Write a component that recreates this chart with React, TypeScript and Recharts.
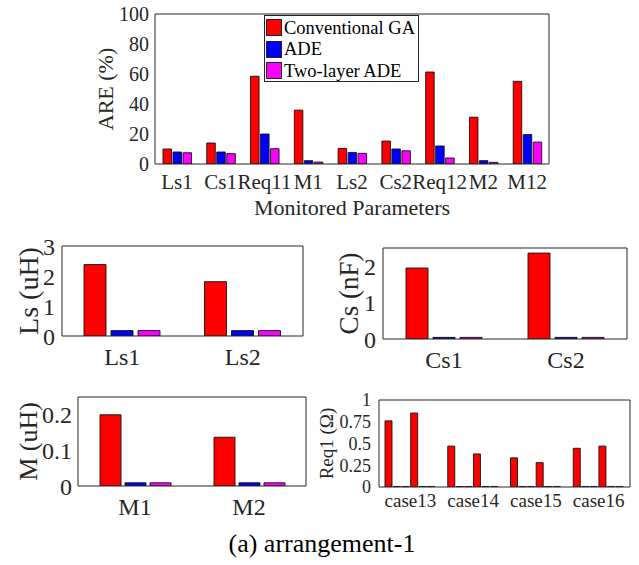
import React from "react"
import { BarChart, Bar, XAxis, YAxis, Legend } from "recharts"

const FONT = '"Liberation Serif", Tinos, "DejaVu Serif", serif'
const INK = "#262626"
const RED = "#ff0000"
const BLUE = "#0000ff"
const MAGENTA = "#ff00ff"

// top panel: ARE per monitored parameter
const topCategories = ["Ls1", "Cs1", "Req11", "M1", "Ls2", "Cs2", "Req12", "M2", "M12"]
const topGA = [10, 14, 58.5, 35.9, 10.4, 15.3, 61.3, 31.2, 55.1]
const topADE = [8, 8, 20, 2.2, 7.7, 10, 12, 2.2, 19.6]
const topTwoLayer = [7.5, 6.9, 10.2, 1.3, 7.1, 8.8, 4, 1.1, 14.6]
const topTicks = [0, 20, 40, 60, 80, 100]

// Ls (uH)
const lsCategories = ["Ls1", "Ls2"]
const lsGA = [2.38, 1.81]
const lsADE = [0.18, 0.18]
const lsTwoLayer = [0.18, 0.18]
const lsTicks = [0, 1, 2, 3]

// Cs (nF)
const csCategories = ["Cs1", "Cs2"]
const csGA = [1.95, 2.36]
const csADE = [0.045, 0.045]
const csTwoLayer = [0.045, 0.045]
const csTicks = [0, 1, 2]

// M (uH)
const mCategories = ["M1", "M2"]
const mGA = [0.2, 0.137]
const mADE = [0.009, 0.009]
const mTwoLayer = [0.009, 0.009]
const mTicks = [0, 0.1, 0.2]

// Req1 per case: first group Req11, second group Req12
const reqCases = ["case13", "case14", "case15", "case16"]
const req11GA = [0.76, 0.47, 0.335, 0.445]
const req11ADE = [0.006, 0.006, 0.006, 0.006]
const req11TwoLayer = [0.006, 0.006, 0.006, 0.006]
const req12GA = [0.85, 0.38, 0.28, 0.47]
const req12ADE = [0.006, 0.006, 0.006, 0.006]
const req12TwoLayer = [0.006, 0.006, 0.006, 0.006]
const reqTicks = [0, 0.25, 0.5, 0.75, 1]

const seriesNames = ["Conventional GA", "ADE", "Two-layer ADE"]

const threeSeries = [
  { key: "ga", name: seriesNames[0], color: RED },
  { key: "ade", name: seriesNames[1], color: BLUE },
  { key: "two", name: seriesNames[2], color: MAGENTA },
]

const sixSeries = [
  { key: "ga1", name: seriesNames[0], color: RED },
  { key: "ade1", name: seriesNames[1], color: BLUE },
  { key: "two1", name: seriesNames[2], color: MAGENTA },
  { key: "ga2", name: seriesNames[0], color: RED },
  { key: "ade2", name: seriesNames[1], color: BLUE },
  { key: "two2", name: seriesNames[2], color: MAGENTA },
]

const rows3 = (cats: string[], ga: number[], ade: number[], two: number[]) =>
  cats.map((name, i) => ({ name, ga: ga[i], ade: ade[i], two: two[i] }))

const topData = rows3(topCategories, topGA, topADE, topTwoLayer)
const lsData = rows3(lsCategories, lsGA, lsADE, lsTwoLayer)
const csData = rows3(csCategories, csGA, csADE, csTwoLayer)
const mData = rows3(mCategories, mGA, mADE, mTwoLayer)
const reqData = reqCases.map((name, i) => ({
  name,
  ga1: req11GA[i],
  ade1: req11ADE[i],
  two1: req11TwoLayer[i],
  ga2: req12GA[i],
  ade2: req12ADE[i],
  two2: req12TwoLayer[i],
}))

function LegendBox({ payload }: any) {
  return (
    <div
      style={{
        border: `1px solid ${INK}`,
        background: "#fff",
        width: 155,
        height: 67,
        boxSizing: "border-box",
        paddingTop: 1,
        fontFamily: FONT,
      }}
    >
      {(payload || []).map((e: any) => (
        <div key={e.value} style={{ display: "flex", alignItems: "center", height: 21.5 }}>
          <span
            style={{
              display: "inline-block",
              width: 16,
              height: 17,
              marginLeft: 1,
              marginRight: 2,
              background: e.color,
              border: "1px solid #222",
              boxSizing: "border-box",
            }}
          />
          <span style={{ fontSize: 18.5, color: "#000", lineHeight: "18px", whiteSpace: "nowrap" }}>{e.value}</span>
        </div>
      ))}
    </div>
  )
}

type PanelProps = {
  left: number
  top: number
  width: number
  height: number
  margin: { top: number; right: number; bottom: number; left: number }
  data: any[]
  series: { key: string; name: string; color: string }[]
  domain: [number, number]
  ticks: number[]
  yLabel: string
  yLabelSize: number
  yLabelDx: number
  yWidth: number
  yTickSize: number
  yTickGap: number
  xHeight: number
  xTickSize: number
  xTickGap: number
  barSize: number
  barGap: number
  xLabel?: string
  legend?: boolean
}

function Panel(p: PanelProps) {
  const tickStyle = { fill: INK, fontFamily: FONT }
  return (
    <div style={{ position: "absolute", left: p.left, top: p.top }}>
      <BarChart width={p.width} height={p.height} data={p.data} margin={p.margin} barGap={p.barGap}>
        <XAxis
          dataKey="name"
          interval={0}
          height={p.xHeight}
          tickLine={false}
          tickSize={2}
          tickMargin={p.xTickGap}
          axisLine={{ stroke: INK }}
          tick={{ ...tickStyle, fontSize: p.xTickSize }}
          label={
            p.xLabel
              ? { value: p.xLabel, position: "insideBottom", offset: 0, fill: INK, fontSize: 22, fontFamily: FONT }
              : undefined
          }
        />
        <XAxis
          xAxisId="top"
          orientation="top"
          dataKey="name"
          interval={0}
          height={1}
          tick={false}
          tickSize={-4}
          axisLine={{ stroke: INK }}
          tickLine={{ stroke: INK }}
        />
        <YAxis
          type="number"
          domain={p.domain}
          ticks={p.ticks}
          interval={0}
          width={p.yWidth}
          allowDataOverflow
          tickLine={false}
          tickSize={2}
          tickMargin={p.yTickGap}
          axisLine={{ stroke: INK }}
          tick={{ ...tickStyle, fontSize: p.yTickSize }}
          label={{
            value: p.yLabel,
            angle: -90,
            position: "center",
            dx: p.yLabelDx,
            fill: INK,
            fontSize: p.yLabelSize,
            fontFamily: FONT,
          }}
        />
        <YAxis
          yAxisId="right"
          orientation="right"
          type="number"
          domain={p.domain}
          ticks={p.ticks}
          interval={0}
          width={1}
          tick={false}
          tickSize={-4}
          axisLine={{ stroke: INK }}
          tickLine={{ stroke: INK }}
        />
        {p.legend && (
          <Legend
            layout="vertical"
            align="center"
            verticalAlign="middle"
            itemSorter={(item: any) => seriesNames.indexOf(item.value)}
            content={<LegendBox />}
            wrapperStyle={{ left: 264, top: 15, width: 155, height: 67 }}
          />
        )}
        {p.series.map((s) => (
          <Bar
            key={s.key}
            dataKey={s.key}
            name={s.name}
            fill={s.color}
            stroke="#111"
            strokeWidth={0.9}
            barSize={p.barSize}
            isAnimationActive={false}
          />
        ))}
      </BarChart>
    </div>
  )
}

export default function App() {
  return (
    <div style={{ position: "absolute", left: 0, top: 0, width: 639, height: 565, background: "#fff" }}>
      <Panel
        left={0}
        top={0}
        width={639}
        height={230}
        margin={{ top: 13, right: 89, bottom: 15, left: 55 }}
        data={topData}
        series={threeSeries}
        domain={[0, 100]}
        ticks={topTicks}
        yLabel="ARE (%)"
        yLabelSize={22}
        yLabelDx={0}
        yWidth={100}
        yTickSize={20}
        yTickGap={4}
        xHeight={51}
        xTickSize={21}
        xTickGap={8}
        barSize={8.5}
        barGap={1.5}
        xLabel="Monitored Parameters"
        legend
      />
      <Panel
        left={0}
        top={230}
        width={320}
        height={150}
        margin={{ top: 15, right: 16, bottom: 0, left: 0 }}
        data={lsData}
        series={threeSeries}
        domain={[0, 3]}
        ticks={lsTicks}
        yLabel="Ls (uH)"
        yLabelSize={28}
        yLabelDx={-3}
        yWidth={62}
        yTickSize={24}
        yTickGap={5}
        xHeight={44}
        xTickSize={24}
        xTickGap={10}
        barSize={22}
        barGap={5}
      />
      <Panel
        left={320}
        top={230}
        width={319}
        height={150}
        margin={{ top: 17, right: 11, bottom: 0, left: 0 }}
        data={csData}
        series={threeSeries}
        domain={[0, 2.5]}
        ticks={csTicks}
        yLabel="Cs (nF)"
        yLabelSize={27}
        yLabelDx={-3.5}
        yWidth={63}
        yTickSize={24}
        yTickGap={5}
        xHeight={41}
        xTickSize={24}
        xTickGap={10}
        barSize={22}
        barGap={5}
      />
      <Panel
        left={0}
        top={380}
        width={320}
        height={140}
        margin={{ top: 16, right: 13, bottom: 0, left: 0 }}
        data={mData}
        series={threeSeries}
        domain={[0, 0.25]}
        ticks={mTicks}
        yLabel="M (uH)"
        yLabelSize={26}
        yLabelDx={-11}
        yWidth={78}
        yTickSize={24}
        yTickGap={4}
        xHeight={34}
        xTickSize={24}
        xTickGap={10}
        barSize={21}
        barGap={4}
      />
      <Panel
        left={310}
        top={380}
        width={329}
        height={140}
        margin={{ top: 19, right: 8, bottom: 0, left: 0 }}
        data={reqData}
        series={sixSeries}
        domain={[0, 1]}
        ticks={reqTicks}
        yLabel="Req1 (Ω)"
        yLabelSize={19}
        yLabelDx={-18.5}
        yWidth={69}
        yTickSize={18}
        yTickGap={6}
        xHeight={33}
        xTickSize={19}
        xTickGap={4.5}
        barSize={7}
        barGap={1.56}
      />
      <div
        style={{
          position: "absolute",
          left: 0,
          top: 531,
          width: 644,
          textAlign: "center",
          fontFamily: FONT,
          fontSize: 26,
          lineHeight: "26px",
          color: "#000",
        }}
      >
        (a) arrangement-1
      </div>
    </div>
  )
}
